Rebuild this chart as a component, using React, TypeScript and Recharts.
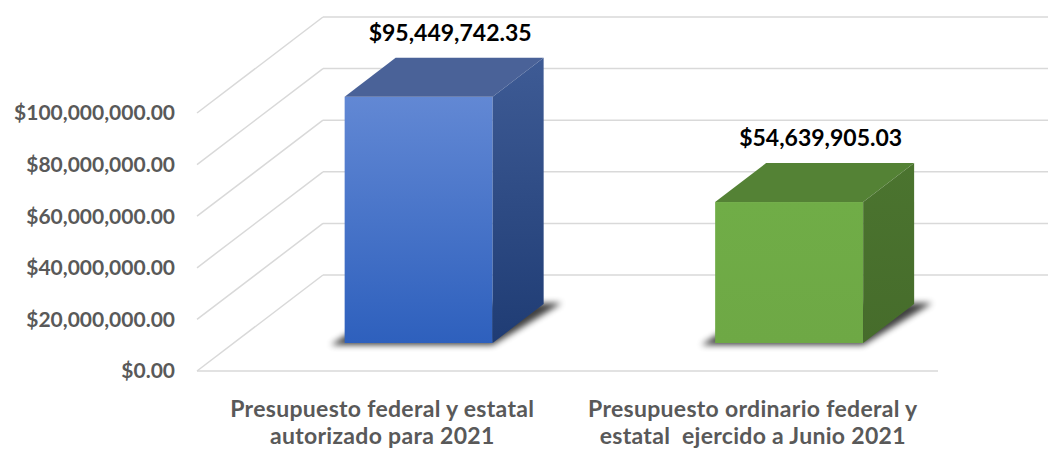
import { BarChart, Bar, XAxis, YAxis, CartesianGrid, LabelList } from 'recharts'

const categories = [
  'Presupuesto federal y estatal autorizado para 2021',
  'Presupuesto ordinario federal y estatal  ejercido a Junio 2021',
]
const categoryLines = [
  ['Presupuesto federal y estatal', 'autorizado para 2021'],
  ['Presupuesto ordinario federal y', 'estatal  ejercido a Junio 2021'],
]
const amounts = [95449742.35, 54639905.03]
const yTicks = [0, 20000000, 40000000, 60000000, 80000000, 100000000]

const data = categories.map((name, i) => ({ name, amount: amounts[i] }))

// 3D look: back wall offset, bar front offset and bar depth
const WALL = { dx: 126, dy: -96 }
const FRONT = { dx: 36.5, dy: -28 }
const DEPTH = { dx: 51, dy: -39 }

const palettes = [
  { frontTop: '#6288d4', frontBottom: '#2e60bd', top: '#4a6298', sideTop: '#3e5b95', sideBottom: '#1f3c74' },
  { frontTop: '#70ad47', frontBottom: '#6ea845', top: '#548235', sideTop: '#4b742f', sideBottom: '#466c2b' },
]

const FONT = 'Lato, "Open Sans", sans-serif'

const money = (v: number) =>
  '$' + v.toLocaleString('en-US', { minimumFractionDigits: 2, maximumFractionDigits: 2 })

const pts = (p: number[][]) => p.map(q => q.join(',')).join(' ')

function Box3D(props: any) {
  const { x, y, width, height, index } = props
  const c = palettes[index % palettes.length]
  const fx = x + FRONT.dx
  const fy = y + FRONT.dy
  const w = width
  const h = height
  const by = fy + h
  const id = `b${index}`
  return (
    <g>
      <defs>
        <linearGradient id={`${id}f`} x1="0" y1="0" x2="0" y2="1">
          <stop offset="0%" stopColor={c.frontTop} />
          <stop offset="100%" stopColor={c.frontBottom} />
        </linearGradient>
        <linearGradient id={`${id}s`} x1="0" y1="0" x2="0" y2="1">
          <stop offset="0%" stopColor={c.sideTop} />
          <stop offset="100%" stopColor={c.sideBottom} />
        </linearGradient>
        <filter id={`${id}blur`} x="-20%" y="-50%" width="140%" height="200%">
          <feGaussianBlur stdDeviation="3" />
        </filter>
      </defs>
      <polygon
        points={pts([
          [fx - 14, by + 2],
          [fx + w, by + 2],
          [fx + w + DEPTH.dx + 18, by + DEPTH.dy - 1],
          [fx + DEPTH.dx, by + DEPTH.dy],
        ])}
        fill="#000"
        opacity={0.75}
        filter={`url(#${id}blur)`}
      />
      <rect x={fx} y={fy} width={w} height={h} fill={`url(#${id}f)`} />
      <polygon
        points={pts([
          [fx, fy],
          [fx + w, fy],
          [fx + w + DEPTH.dx, fy + DEPTH.dy],
          [fx + DEPTH.dx, fy + DEPTH.dy],
        ])}
        fill={c.top}
      />
      <polygon
        points={pts([
          [fx + w, fy],
          [fx + w + DEPTH.dx, fy + DEPTH.dy],
          [fx + w + DEPTH.dx, by + DEPTH.dy],
          [fx + w, by],
        ])}
        fill={`url(#${id}s)`}
      />
    </g>
  )
}

// each grid line becomes a floor diagonal plus a line on the back wall
const WallLine = (props: any) => {
  const { x1, y1, x2 } = props
  return (
    <g key={`w-${y1}`}>
      <line x1={x1} y1={y1} x2={x1 + WALL.dx} y2={y1 + WALL.dy} stroke="#d9d9d9" strokeWidth={1.5} />
      <line x1={x1 + WALL.dx} y1={y1 + WALL.dy} x2={x2 + WALL.dx} y2={y1 + WALL.dy} stroke="#d9d9d9" strokeWidth={1.5} />
    </g>
  )
}

const CategoryTick = ({ x, y, payload }: any) => {
  const lines = categoryLines[payload.index] ?? [payload.value]
  return (
    <text
      x={x}
      y={y}
      textAnchor="middle"
      fill="#595959"
      fontFamily={FONT}
      fontWeight={700}
      fontSize={23}
      letterSpacing={0.3}
    >
      {lines.map((l, i) => (
        <tspan key={i} x={x} dy={i === 0 ? 38 : 27} style={{ whiteSpace: 'pre' }}>
          {l}
        </tspan>
      ))}
    </text>
  )
}

const ValueLabel = (props: any) => {
  const { x, y, width, value } = props
  const cx = x + width / 2 + FRONT.dx + DEPTH.dx / 2 + 6
  const cy = y + FRONT.dy + DEPTH.dy - 25
  return (
    <text x={cx} y={cy} dy={8} textAnchor="middle" fill="#000" fontFamily={FONT} fontWeight={700} fontSize={23}>
      {money(value)}
    </text>
  )
}

export default function App() {
  return (
    <div style={{ width: 1048, height: 450, background: '#fff' }}>
      <style>{`body{margin:0}`}</style>
      <BarChart
        width={1048}
        height={450}
        data={data}
        margin={{ top: 113, right: 110, bottom: 0, left: 0 }}
        barCategoryGap="30%"
      >
        <CartesianGrid vertical={false} horizontal={WallLine} />
        <XAxis
          dataKey="name"
          height={79}
          axisLine={{ stroke: '#d9d9d9', strokeWidth: 1.5 }}
          tickLine={false}
          tick={<CategoryTick />}
          interval={0}
        />
        <YAxis
          width={197}
          domain={[0, 100000000]}
          ticks={yTicks}
          tickFormatter={money}
          axisLine={false}
          tickLine={false}
          tickSize={0}
          tickMargin={22}
          tick={{ fill: '#595959', fontFamily: FONT, fontWeight: 700, fontSize: 21 }}
        />
        <Bar dataKey="amount" shape={<Box3D />} isAnimationActive={false}>
          <LabelList dataKey="amount" content={<ValueLabel />} />
        </Bar>
      </BarChart>
    </div>
  )
}
